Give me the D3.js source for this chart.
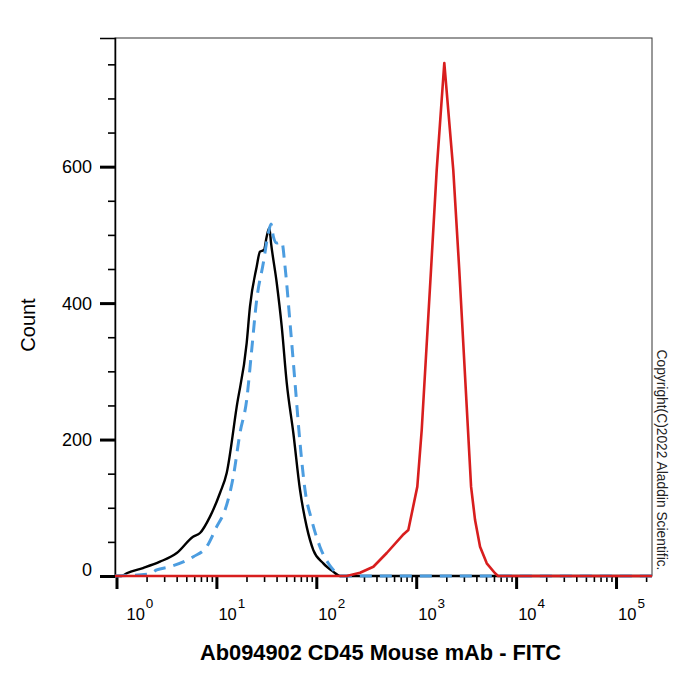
<!DOCTYPE html>
<html>
<head>
<meta charset="utf-8">
<script src="https://cdn.jsdelivr.net/npm/d3@7"></script>
<style>
  html, body { margin: 0; padding: 0; background: #fff; }
  svg { display: block; font-family: "Liberation Sans", Arial, sans-serif; }
</style>
</head>
<body>
<div id="chart"></div>
<script>
// Histogram data: log10(FITC intensity) and event count

// isotype control (solid black)
const isotypeLog = [-0.015, 0.05, 0.102, 0.265, 0.435, 0.603, 0.766, 0.836, 0.936, 1.036, 1.103, 1.203, 1.303, 1.336, 1.403, 1.436, 1.476, 1.503, 1.53, 1.547, 1.604, 1.654, 1.704, 1.77, 1.837, 1.904, 1.97, 2.07, 2.17, 2.237, 5.36];
const isotypeCount = [0, 0, 4, 11.7, 21, 33.7, 57.6, 63, 87, 121.7, 151, 248, 341.5, 394.7, 453.4, 475.4, 477.9, 497.4, 510, 488, 429.5, 365.4, 283, 209.6, 126, 72, 38, 18.6, 6.3, 0, 0];

// blank / unstained (dashed blue)
const blankLog = [-0.015, 0.33, 0.402, 0.536, 0.769, 0.903, 1.003, 1.086, 1.169, 1.236, 1.303, 1.353, 1.403, 1.469, 1.52, 1.547, 1.57, 1.604, 1.654, 1.687, 1.737, 1.787, 1.837, 1.887, 1.954, 2.036, 2.12, 2.187, 2.237, 5.36];
const blankCount = [0, 3, 8.8, 13.6, 28.3, 43, 72.3, 96.7, 145.6, 209.6, 258, 331, 404.6, 458.4, 502.8, 516, 497.4, 488, 490, 453.4, 370.9, 283, 195, 126, 82, 43, 18.6, 6.3, 0, 0];

// CD45 stained (solid red)
const cd45Log = [-0.015, 2.304, 2.438, 2.571, 2.705, 2.865, 2.921, 3.011, 3.055, 3.148, 3.205, 3.281, 3.371, 3.431, 3.516, 3.549, 3.589, 3.639, 3.706, 3.789, 3.819, 5.36];
const cd45Count = [0, 0, 4.8, 13.6, 33.7, 60, 67.4, 131, 214, 448.6, 595, 752, 595, 448.6, 220, 131, 82, 43, 18.6, 4, 0, 0];

const yTicks = [0, 200, 400, 600];
const xDecades = [0, 1, 2, 3, 4, 5];
const xTitle = "Ab094902 CD45 Mouse mAb - FITC";
const yTitle = "Count";
const copyright = "Copyright(C)2022 Aladdin Scientific.";

const W = 700, H = 700;
const plot = { left: 115, right: 652, top: 38, bottom: 576 };

const svg = d3.select("#chart").append("svg")
  .attr("width", W)
  .attr("height", H);

const x = d3.scaleLog()
  .domain([Math.pow(10, -0.015), Math.pow(10, 5.36)])
  .range([plot.left, plot.right]);

const y = d3.scaleLinear()
  .domain([0, 788.6])
  .range([plot.bottom, plot.top]);

// frame
svg.append("rect")
  .attr("x", plot.left).attr("y", plot.top)
  .attr("width", plot.right - plot.left)
  .attr("height", plot.bottom - plot.top)
  .attr("fill", "none")
  .attr("stroke", "#333")
  .attr("stroke-width", 1);

// minor / major ticks along x
const majorX = xDecades.map((e) => Math.pow(10, e));
const minorX = [];
for (let e = -1; e <= 5; e++) {
  for (let m = 2; m <= 9; m++) {
    const v = m * Math.pow(10, e);
    if (v >= x.domain()[0] && v <= x.domain()[1]) minorX.push(v);
  }
}

const xMinorAxis = svg.append("g")
  .attr("transform", `translate(0,${plot.bottom})`)
  .call(d3.axisBottom(x).tickValues(minorX).tickSize(6).tickFormat(""));
xMinorAxis.select(".domain").remove();
xMinorAxis.selectAll("line").attr("stroke", "#000").attr("stroke-width", 1.6);

const xMajorAxis = svg.append("g")
  .attr("transform", `translate(0,${plot.bottom})`)
  .call(d3.axisBottom(x).tickValues(majorX).tickSize(13).tickFormat(""));
xMajorAxis.select(".domain").remove();
xMajorAxis.selectAll("line").attr("stroke", "#000").attr("stroke-width", 3);

// x tick labels as 10 with superscript exponent
const xLabels = svg.append("g").attr("fill", "#000");
xDecades.forEach((e) => {
  const px = Math.max(x(Math.pow(10, e)) + 2, 126.5);
  const t = xLabels.append("text")
    .attr("x", px)
    .attr("y", 620)
    .attr("font-size", 16.5);
  t.append("tspan").text("10");
  t.append("tspan").attr("dy", -12).attr("dx", 1).attr("font-size", 13.5).text(e);
});

// y ticks
const minorY = d3.range(50, 800, 50).filter((v) => v % 200 !== 0 && v <= 788);
const yMinorAxis = svg.append("g")
  .attr("transform", `translate(${plot.left},0)`)
  .call(d3.axisLeft(y).tickValues(minorY).tickSize(7).tickFormat(""));
yMinorAxis.select(".domain").remove();
yMinorAxis.selectAll("line").attr("stroke", "#000").attr("stroke-width", 1.6);

const yMajorAxis = svg.append("g")
  .attr("transform", `translate(${plot.left},0)`)
  .call(d3.axisLeft(y).tickValues(yTicks).tickSize(15).tickPadding(8).tickFormat(d3.format("d")));
yMajorAxis.select(".domain").attr("stroke", "#000").attr("stroke-width", 1.5);
yMajorAxis.selectAll("line").attr("stroke", "#000").attr("stroke-width", 3);
yMajorAxis.selectAll("text")
  .attr("font-size", 18)
  .attr("font-family", "Liberation Sans, Arial, sans-serif")
  .attr("fill", "#000")
  .attr("dy", (d) => (d === 0 ? "-0.05em" : "0.35em"));

// curves
const smooth = d3.line()
  .x((d) => x(Math.pow(10, d[0])))
  .y((d) => y(d[1]))
  .curve(d3.curveMonotoneX);

const sharp = d3.line()
  .x((d) => x(Math.pow(10, d[0])))
  .y((d) => y(d[1]));

const zip = (a, b) => a.map((v, i) => [v, b[i]]);

const curves = svg.append("g");

curves.append("path")
  .datum(zip(isotypeLog, isotypeCount))
  .attr("d", smooth)
  .attr("fill", "none")
  .attr("stroke", "#000")
  .attr("stroke-width", 2.4)
  .attr("stroke-linejoin", "round");

curves.append("path")
  .datum(zip(blankLog, blankCount))
  .attr("d", smooth)
  .attr("fill", "none")
  .attr("stroke", "#4c9de0")
  .attr("stroke-width", 3)
  .attr("stroke-dasharray", "12,8")
  .attr("stroke-linejoin", "round");

curves.append("path")
  .datum(zip(cd45Log, cd45Count))
  .attr("d", sharp)
  .attr("fill", "none")
  .attr("stroke", "#d81e1e")
  .attr("stroke-width", 2.6)
  .attr("stroke-linejoin", "round");

// titles
svg.append("text")
  .attr("x", (plot.left + plot.right) / 2 - 3)
  .attr("y", 660)
  .attr("text-anchor", "middle")
  .attr("font-size", 21.8)
  .attr("font-weight", "bold")
  .attr("fill", "#000")
  .text(xTitle);

svg.append("text")
  .attr("transform", "translate(35,325) rotate(-90)")
  .attr("text-anchor", "middle")
  .attr("font-size", 20)
  .attr("fill", "#000")
  .text(yTitle);

svg.append("text")
  .attr("transform", "translate(657,460) rotate(90)")
  .attr("text-anchor", "middle")
  .attr("font-size", 13.8)
  .attr("fill", "#222")
  .text(copyright);
</script>
</body>
</html>
